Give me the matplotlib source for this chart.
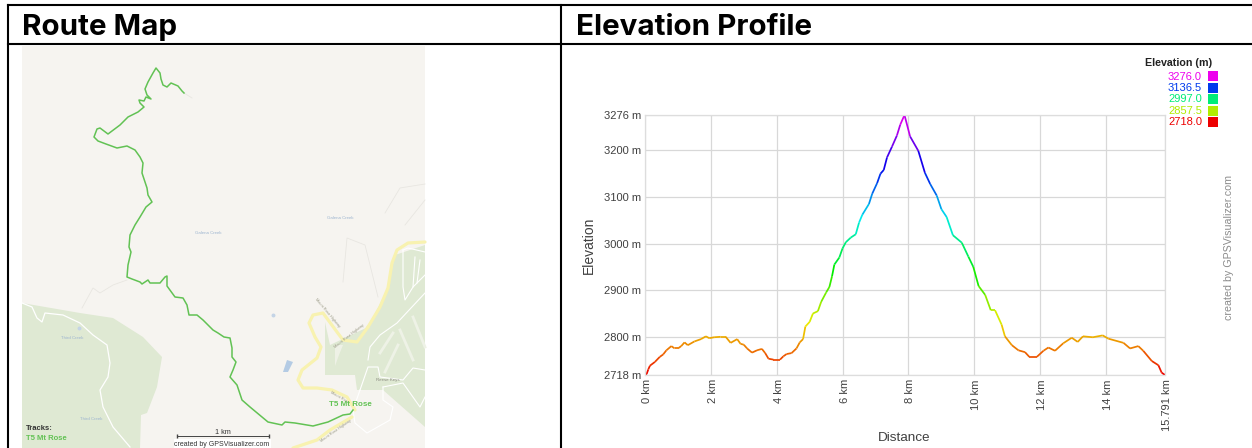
import matplotlib

matplotlib.use("Agg")
import colorsys

import matplotlib.pyplot as plt
import numpy as np
from matplotlib.collections import LineCollection
from matplotlib.colors import ListedColormap, Normalize
from matplotlib.transforms import ScaledTranslation

W, H = 1252, 448

# elevation profile
distance_km = [
    0, 0.05, 0.1, 0.15, 0.3, 0.45, 0.55, 0.65, 0.8, 0.9, 1.0, 1.1, 1.2, 1.3, 1.5, 1.7,
    1.85, 1.95, 2.1, 2.3, 2.45, 2.6, 2.8, 2.9, 3.0, 3.1, 3.25, 3.4, 3.55, 3.65, 3.75,
    3.9, 4.1, 4.2, 4.3, 4.45, 4.6, 4.7, 4.8, 4.87, 5.0, 5.1, 5.25, 5.35, 5.5, 5.6,
    5.68, 5.75, 5.9, 6.0, 6.1, 6.25, 6.4, 6.5, 6.6, 6.8, 6.9, 7.05, 7.15, 7.25, 7.35,
    7.5, 7.65, 7.75, 7.88, 8.05, 8.3, 8.5, 8.66, 8.86, 9.0, 9.16, 9.35, 9.62, 9.82,
    9.97, 10.13, 10.33, 10.5, 10.63, 10.83, 10.93, 11.14, 11.34, 11.54, 11.67, 11.9,
    12.1, 12.25, 12.45, 12.7, 12.96, 13.14, 13.3, 13.6, 13.9, 14.07, 14.53, 14.73,
    14.98, 15.13, 15.39, 15.59, 15.69, 15.791,
]
elevation_m = [
    2718, 2720, 2730, 2738, 2746, 2757, 2762, 2771, 2780, 2775, 2775, 2780, 2788, 2782,
    2790, 2795, 2801, 2797, 2799, 2800, 2800, 2787, 2795, 2785, 2783, 2775, 2766, 2771,
    2774, 2765, 2753, 2751, 2751, 2758, 2763, 2765, 2775, 2788, 2795, 2822, 2832, 2850,
    2855, 2875, 2895, 2907, 2930, 2955, 2970, 2990, 3003, 3013, 3020, 3045, 3062, 3085,
    3107, 3130, 3150, 3158, 3185, 3208, 3232, 3255, 3276, 3230, 3199, 3152, 3128, 3103,
    3074, 3057, 3018, 3002, 2972, 2950, 2909, 2890, 2857, 2857, 2826, 2801, 2782, 2771,
    2767, 2757, 2757, 2770, 2777, 2770, 2786, 2798, 2789, 2801, 2799, 2803, 2796, 2787,
    2775, 2780, 2770, 2748, 2739, 2723, 2718,
]
x_ticks = [0, 2, 4, 6, 8, 10, 12, 14, 15.791]
x_labels = ["0 km", "2 km", "4 km", "6 km", "8 km", "10 km", "12 km", "14 km", "15.791 km"]
y_ticks = [2718, 2800, 2900, 3000, 3100, 3200, 3276]
y_labels = ["2718 m", "2800 m", "2900 m", "3000 m", "3100 m", "3200 m", "3276 m"]
legend_values = [3276.0, 3136.5, 2997.0, 2857.5, 2718.0]

# map features, in image pixels
route_x = [
    184, 182, 178, 171, 167, 163, 161, 160, 156, 153, 148, 145, 147, 151, 146, 144, 139,
    140, 144, 138, 128, 120, 108, 100, 97, 94, 98, 106, 117, 127, 135, 140, 143, 142,
    147, 148, 152, 146, 140, 135, 130, 129, 131, 128, 127, 132, 140, 142, 148, 150, 160,
    165, 167, 167, 175, 183, 187, 189, 197, 203, 213, 218, 224, 230, 232, 232, 236, 233,
    230, 237, 242, 250, 262, 268, 282, 285, 295, 313, 328, 343, 350, 353,
]
route_y = [
    93, 91, 86, 83, 87, 85, 79, 73, 68, 73, 82, 89, 95, 99, 97, 101, 100, 103, 107, 112,
    117, 125, 134, 128, 129, 137, 141, 144, 148, 146, 150, 157, 163, 173, 188, 195, 202,
    207, 217, 225, 235, 247, 252, 265, 277, 279, 282, 284, 280, 283, 283, 277, 276, 286,
    297, 298, 305, 315, 315, 320, 330, 333, 337, 338, 348, 357, 362, 370, 377, 385, 400,
    407, 417, 422, 425, 422, 423, 426, 422, 415, 414, 410,
]
highway_x = [425, 408, 397, 392, 388, 380, 368]
highway_y = [242, 243, 250, 263, 288, 307, 327]
highway2_x = [368, 357, 343, 337, 323, 313, 309, 315, 321, 317, 302, 298, 303, 317, 332, 347, 355]
highway2_y = [327, 342, 340, 332, 313, 315, 323, 337, 347, 358, 370, 380, 388, 388, 390, 397, 410]
highway3_x = [352, 330, 317, 293]
highway3_y = [417, 430, 440, 448]
forest_x = [22, 80, 113, 143, 162, 157, 147, 141, 140, 22]
forest_y = [303, 313, 318, 337, 357, 387, 413, 415, 448, 448]
resort_x = [325, 330, 368, 388, 395, 425, 425, 383, 357, 355, 325]
resort_y = [322, 345, 327, 288, 255, 245, 427, 390, 390, 375, 375]
creek_road_x = [22, 32, 37, 42, 45, 63, 80, 93, 107, 110, 108, 100, 103, 113, 130]
creek_road_y = [303, 307, 318, 322, 313, 315, 323, 335, 345, 363, 377, 390, 407, 427, 447]
ski_roads = [
    ([403, 408, 425], [250, 248, 252]),
    ([403, 403, 405, 413, 425], [250, 287, 300, 287, 275]),
    ([415, 413], [257, 287]),
    ([420, 417], [260, 283]),
    ([368, 370, 380, 397, 425], [360, 347, 335, 323, 293]),
    ([360, 368, 378, 380, 403, 413, 425], [390, 367, 367, 377, 380, 368, 370]),
    ([360, 353, 355, 367, 390, 393, 383, 383], [390, 410, 423, 433, 420, 407, 400, 387]),
    ([383, 403, 420, 425], [387, 383, 407, 397]),
]
ski_runs = [
    ([380, 393], [353, 333]),
    ([400, 413], [330, 360]),
    ([413, 425], [317, 347]),
    ([385, 398], [372, 345]),
]
trails = [
    ([184, 192], [93, 98]),
    ([385, 400, 425], [213, 188, 184]),
    ([405, 425], [225, 200]),
    ([127, 113, 100, 93, 82], [280, 285, 293, 288, 308]),
    ([343, 347, 365, 378], [282, 238, 245, 297]),
]
lake_x = [287, 293, 288, 283]
lake_y = [360, 362, 372, 372]
creek_labels = [
    (340, 218, "Galena Creek"),
    (208, 233, "Galena Creek"),
    (72, 338, "Third Creek"),
    (91, 419, "Third Creek"),
]
highway_labels = [
    (327, 313, -50, "Mount Rose Highway"),
    (349, 336, 38, "Mount Rose Highway"),
    (340, 397, -30, "Mount Rose"),
    (336, 431, 35, "Mount Rose Highway"),
]

ROUTE_GREEN = "#62c254"
TEXT_GREY = "#404040"
ARIAL = "Liberation Sans"


def elevation_color(value):
    # hue runs from red at the bottom to magenta at the top
    hue = (value - 2718.0) / (3276.0 - 2718.0) * 5 / 6
    return colorsys.hsv_to_rgb(hue, 1.0, 0.93)


def draw_table(ax):
    ax.plot([7.5, W], [5, 5], color="black", lw=1.5)
    ax.plot([7.5, W], [44.5, 44.5], color="black", lw=1.5)
    ax.plot([7.5, 7.5], [5, H], color="black", lw=1.5)
    ax.plot([561, 561], [5, H], color="black", lw=1.5)
    for x, title in [(22, "Route Map"), (576, "Elevation Profile")]:
        ax.text(x, 27.5, title, fontsize=21.3, fontweight="bold", family="Inter", va="center")


def draw_map(ax):
    ax.fill([22, 425, 425, 22], [46, 46, H, H], color="#f6f4f0", lw=0)
    ax.fill(forest_x, forest_y, color="#dfe9d3", lw=0)
    ax.fill(resort_x, resort_y, color="#dfe9d3", lw=0)
    ax.fill([335, 343, 339, 335], [345, 345, 355, 366], color="#eef1e6", lw=0)
    ax.fill(lake_x, lake_y, color="#b4cbe4", lw=0)
    ax.scatter([79, 273], [328, 315], s=8, marker="o", color="#c4d4e6", linewidths=0)
    for xs, ys in trails:
        ax.plot(xs, ys, color="#e8e6e1", lw=0.6)
    for xs, ys in ski_runs:
        ax.plot(xs, ys, color="#eef2e6", lw=2.0)
    for xs, ys in ski_roads:
        ax.plot(xs, ys, color="white", lw=0.8)
    ax.plot(creek_road_x, creek_road_y, color="white", lw=0.9)
    for xs, ys in [(highway_x, highway_y), (highway2_x, highway2_y), (highway3_x, highway3_y)]:
        ax.plot(xs, ys, color="#f8f2b0", lw=2.3, solid_capstyle="round")
    ax.plot(route_x, route_y, color=ROUTE_GREEN, lw=1.1)

    for x, y, label in creek_labels:
        ax.text(x, y, label, fontsize=3.2, color="#9db5d0", family=ARIAL, ha="center", va="center")
    for x, y, rot, label in highway_labels:
        ax.text(x, y, label, fontsize=2.8, color="#9a9a86", family=ARIAL, rotation=rot,
                ha="center", va="center")
    ax.text(388, 380, "Reese Keys", fontsize=3.2, color="#8a8a80", family=ARIAL, ha="center", va="center")

    ax.text(26, 429, "Tracks:", fontsize=5.5, fontweight="bold", color="#333333", family=ARIAL, va="center")
    ax.text(26, 438, "T5 Mt Rose", fontsize=5.5, fontweight="bold", color=ROUTE_GREEN, family=ARIAL, va="center")
    ax.text(350, 404, "T5 Mt Rose", fontsize=5.8, fontweight="bold", color=ROUTE_GREEN, family=ARIAL,
            ha="center", va="center")

    ax.plot([177, 269], [436, 436], color="#444444", lw=0.7, marker="|", ms=2.5)
    ax.text(223, 432, "1 km", fontsize=5.2, color="#333333", family=ARIAL, ha="center", va="center")
    ax.fill([174, 271, 271, 174], [439, 439, H, H], color="white", lw=0)
    ax.text(222, 444, "created by GPSVisualizer.com", fontsize=5, color="#333333", family=ARIAL,
            ha="center", va="center")


def draw_legend(ax):
    ax.text(1179, 63, "Elevation (m)", fontsize=7.7, color="#222222", fontweight="bold", family=ARIAL,
            ha="center", va="center")
    for i, value in enumerate(legend_values):
        y = 76.5 + i * 11.4
        color = elevation_color(value)
        ax.text(1202, y, f"{value:.1f}", fontsize=8, color=color, family=ARIAL, ha="right", va="center")
        ax.scatter([1212.5], [y], s=42, marker="s", color=color, linewidths=0)


def draw_profile(fig):
    ax = fig.add_axes([645 / W, 1 - 375 / H, (1165 - 645) / W, (375 - 115) / H])
    ax.patch.set_alpha(0)

    x = np.array(distance_km)
    y = np.array(elevation_m)
    points = np.column_stack([x, y])
    segments = np.stack([points[:-1], points[1:]], axis=1)
    mids = (y[:-1] + y[1:]) / 2
    table = [elevation_color(v) for v in np.linspace(2718, 3276, 256)]
    lines = LineCollection(segments, cmap=ListedColormap(table), norm=Normalize(2718, 3276), lw=1.25)
    lines.set_array(mids)
    ax.add_collection(lines)

    ax.set_xlim(0, 15.791)
    ax.set_ylim(2718, 3276)
    ax.set_xticks(x_ticks, x_labels, rotation=90, fontsize=8, color=TEXT_GREY, family=ARIAL)
    ax.set_yticks(y_ticks, y_labels, fontsize=8, color=TEXT_GREY, family=ARIAL)
    ax.tick_params(length=0, pad=3)
    ax.grid(True, color="#d8d8d8", lw=0.9)
    ax.set_axisbelow(True)
    for spine in ax.spines.values():
        spine.set_color("#dddddd")
        spine.set_linewidth(0.9)

    # rotated labels sit a little left of their tick otherwise
    shift = ScaledTranslation(2 / 100, 0, fig.dpi_scale_trans)
    for label in ax.get_xticklabels():
        label.set_transform(label.get_transform() + shift)


def main():
    fig = plt.figure(figsize=(W / 100, H / 100), dpi=100, facecolor="white")
    page = fig.add_axes([0, 0, 1, 1])
    page.set_xlim(0, W)
    page.set_ylim(H, 0)
    page.axis("off")

    draw_map(page)
    draw_table(page)
    draw_legend(page)
    draw_profile(fig)

    page.text(589, 245, "Elevation", fontsize=10, color=TEXT_GREY, family=ARIAL, rotation=90,
              ha="center", va="center")
    page.text(904, 438, "Distance", fontsize=9.7, color=TEXT_GREY, family=ARIAL, ha="center", va="center")
    page.text(1228.5, 247, "created by GPSVisualizer.com", fontsize=7.7, color="#8c8c8c", family=ARIAL,
              rotation=90, ha="center", va="center")

    fig.savefig("out.png", dpi=100)
    plt.close(fig)


if __name__ == "__main__":
    main()
